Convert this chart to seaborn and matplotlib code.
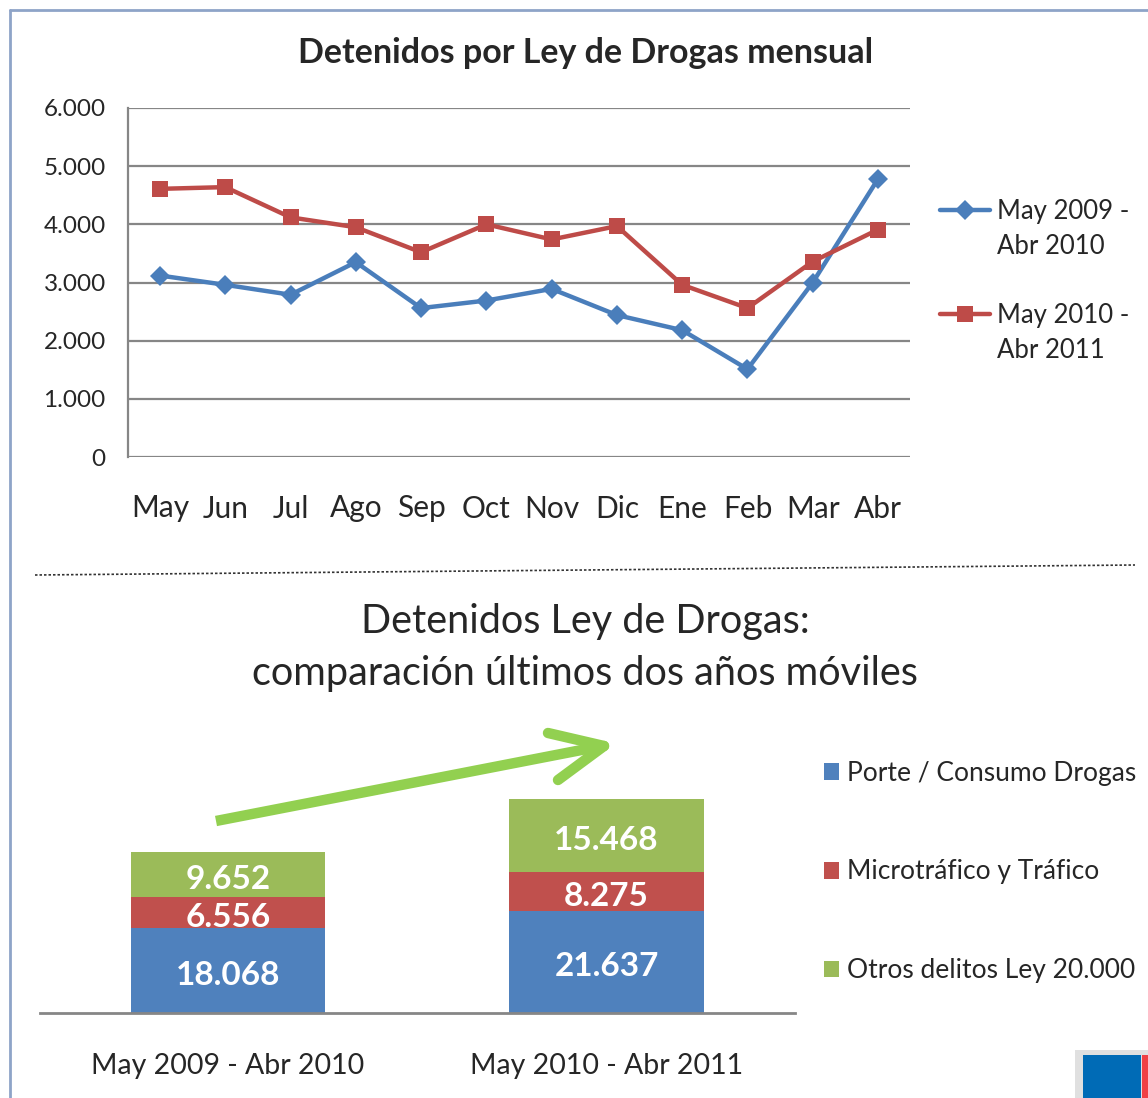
import matplotlib
matplotlib.use("Agg")
import matplotlib.pyplot as plt
import seaborn as sns
import pandas as pd
import numpy as np
from matplotlib.patches import Patch, Rectangle
from matplotlib.lines import Line2D

# ---------------- data ----------------
months = ["May", "Jun", "Jul", "Ago", "Sep", "Oct", "Nov", "Dic", "Ene", "Feb", "Mar", "Abr"]
serie_2009 = [3120, 2960, 2790, 3350, 2560, 2690, 2890, 2440, 2180, 1510, 3000, 4780]
serie_2010 = [4610, 4640, 4120, 3950, 3520, 4000, 3740, 3970, 2960, 2560, 3360, 3910]
series_names = ["May 2009 - Abr 2010", "May 2010 - Abr 2011"]
legend_lines = [["May 2009 -", "Abr 2010"], ["May 2010 -", "Abr 2011"]]
y_ticks = [0, 1000, 2000, 3000, 4000, 5000, 6000]
y_tick_labels = ["0", "1.000", "2.000", "3.000", "4.000", "5.000", "6.000"]

periods = ["May 2009 - Abr 2010", "May 2010 - Abr 2011"]
porte = [18068, 21637]
micro = [6556, 8275]
otros = [9652, 15468]
components = ["Porte / Consumo Drogas", "Microtráfico y Tráfico", "Otros delitos Ley 20.000"]

# ---------------- style ----------------
sns.set_theme(style="white")
plt.rcParams["font.family"] = ["Lato", "DejaVu Sans"]

BLUE = "#4a7ebb"
RED = "#be4b48"
BAR_BLUE = "#4f81bd"
BAR_RED = "#c0504d"
BAR_GREEN = "#9bbb59"
GRID = "#868686"

fig = plt.figure(figsize=(11.48, 10.98), dpi=100)
W, H = 1148, 1098

def fx(x):
    return x / W

def fy(y):
    return 1 - y / H

# ---------------- line chart ----------------
ax1 = fig.add_axes([fx(128), fy(457), fx(910) - fx(128), fy(108) - fy(457)])
df = pd.DataFrame({
    "Mes": months * 2,
    "Detenidos": serie_2009 + serie_2010,
    "Periodo": [series_names[0]] * 12 + [series_names[1]] * 12,
})
sns.lineplot(data=df, x="Mes", y="Detenidos", hue="Periodo", style="Periodo",
             palette=[BLUE, RED], markers={series_names[0]: "D", series_names[1]: "s"},
             dashes=False, sort=False, linewidth=3.2, markersize=11,
             markeredgewidth=0, ax=ax1, legend=False)
for ln, ms in zip(ax1.get_lines(), [10, 12]):
    ln.set_markersize(ms)

ax1.set_ylim(0, 6000)
ax1.set_xlim(-0.49, 11.49)
ax1.set_yticks(y_ticks)
ax1.set_yticklabels(y_tick_labels, fontsize=17.5)
ax1.set_xticks(range(len(months)))
ax1.set_xticklabels(months, fontsize=21.5)
ax1.tick_params(axis="y", length=0, pad=16)
ax1.tick_params(axis="x", length=0, pad=27)
ax1.set_xlabel("")
ax1.set_ylabel("")
ax1.grid(axis="y", color=GRID, linewidth=1.6)
ax1.set_axisbelow(True)
for s in ["top", "right", "bottom"]:
    ax1.spines[s].set_visible(False)
ax1.spines["left"].set_color(GRID)
ax1.spines["left"].set_linewidth(1.6)

fig.text(fx(586), fy(53), "Detenidos por Ley de Drogas mensual", ha="center", va="center",
         fontsize=24.5, fontweight="bold")

line_handles = [
    Line2D([0], [0], color=BLUE, lw=3.2, marker="D", markersize=10, markeredgewidth=0),
    Line2D([0], [0], color=RED, lw=3.2, marker="s", markersize=12, markeredgewidth=0),
]
blank = Line2D([0], [0], color="none")
for k, (h, top) in enumerate(zip(line_handles, [189, 293])):
    leg = fig.legend([h, blank], legend_lines[k], loc="upper left",
                     bbox_to_anchor=(fx(930), fy(top)), frameon=False, fontsize=18.5,
                     handlelength=1.95, handletextpad=0.25, labelspacing=0.38,
                     borderaxespad=0)

# ---------------- separator & frame ----------------
fig.add_artist(Line2D([fx(35), fx(1135)], [fy(575), fy(565)], color="#333333",
                      lw=1.2, linestyle=(0, (1.5, 1.2))))
frame_c = "#8ea4c8"
fig.add_artist(Line2D([fx(10), fx(10)], [fy(10), 0], color=frame_c, lw=2))
fig.add_artist(Line2D([fx(10), 1], [fy(10), fy(10)], color=frame_c, lw=2))

# ---------------- stacked bar chart ----------------
fig.text(fx(585), fy(622), "Detenidos Ley de Drogas:", ha="center", va="center", fontsize=28.5)
fig.text(fx(585), fy(674), "comparación últimos dos años móviles", ha="center", va="center",
         fontsize=28.5)

ax2 = fig.add_axes([fx(40), fy(1013), fx(795) - fx(40), fy(700) - fy(1013)])
porte_a = np.array(porte)
micro_a = np.array(micro)
otros_a = np.array(otros)
level2 = porte_a + micro_a
level3 = level2 + otros_a
bw = 0.513
sns.barplot(x=periods, y=level3, color=BAR_GREEN, width=bw, saturation=1, ax=ax2)
sns.barplot(x=periods, y=level2, color=BAR_RED, width=bw, saturation=1, ax=ax2)
sns.barplot(x=periods, y=porte_a, color=BAR_BLUE, width=bw, saturation=1, ax=ax2)
for p in ax2.patches:
    p.set_edgecolor("none")

ax2.set_ylim(0, 66500)
ax2.set_xlim(-0.497, 1.498)
ax2.set_yticks([])
ax2.tick_params(axis="x", length=0, pad=29, labelsize=20.5)
for s in ["top", "right", "left"]:
    ax2.spines[s].set_visible(False)
ax2.spines["bottom"].set_color(GRID)
ax2.spines["bottom"].set_linewidth(2)
ax2.set_ylabel("")

def fmt(v):
    return f"{v:,}".replace(",", ".")

for i in range(len(periods)):
    bottoms = [0, porte_a[i], level2[i]]
    vals = [porte_a[i], micro_a[i], otros_a[i]]
    for b, v in zip(bottoms, vals):
        ax2.annotate(fmt(v), xy=(i, b + v / 2), xytext=(0, -3.5), textcoords="offset points",
                     ha="center", va="center", color="white", fontsize=24, fontweight="bold")

bar_handles = [Patch(facecolor=c, edgecolor="none") for c in [BAR_BLUE, BAR_RED, BAR_GREEN]]
fig.legend(bar_handles, components, loc="upper left", bbox_to_anchor=(fx(813), fy(750)),
           frameon=False, fontsize=19, handlelength=0.6, handleheight=0.6,
           handletextpad=0.3, labelspacing=2.8, borderaxespad=0)

# ---------------- green arrow ----------------
AG = "#92d050"
for (x0, y0, x1, y1) in [(216, 821, 597, 747), (548, 733, 604, 746), (558, 780, 604, 746)]:
    fig.add_artist(Line2D([fx(x0), fx(x1)], [fy(y0), fy(y1)], color=AG, lw=7.5,
                          solid_capstyle="round" if x0 != 216 else "butt"))

# ---------------- logo fragment ----------------
fig.add_artist(Rectangle((fx(1075), 0), fx(1148) - fx(1075), fy(1050), transform=fig.transFigure,
                         facecolor="#e0e0e0", edgecolor="none"))
fig.add_artist(Rectangle((fx(1083), 0), fx(1141) - fx(1083), fy(1055), transform=fig.transFigure,
                         facecolor="#006bb6", edgecolor="none"))
fig.add_artist(Rectangle((fx(1142), 0), fx(1148) - fx(1142), fy(1055), transform=fig.transFigure,
                         facecolor="#ef4044", edgecolor="none"))

fig.savefig("out.png", dpi=100)
